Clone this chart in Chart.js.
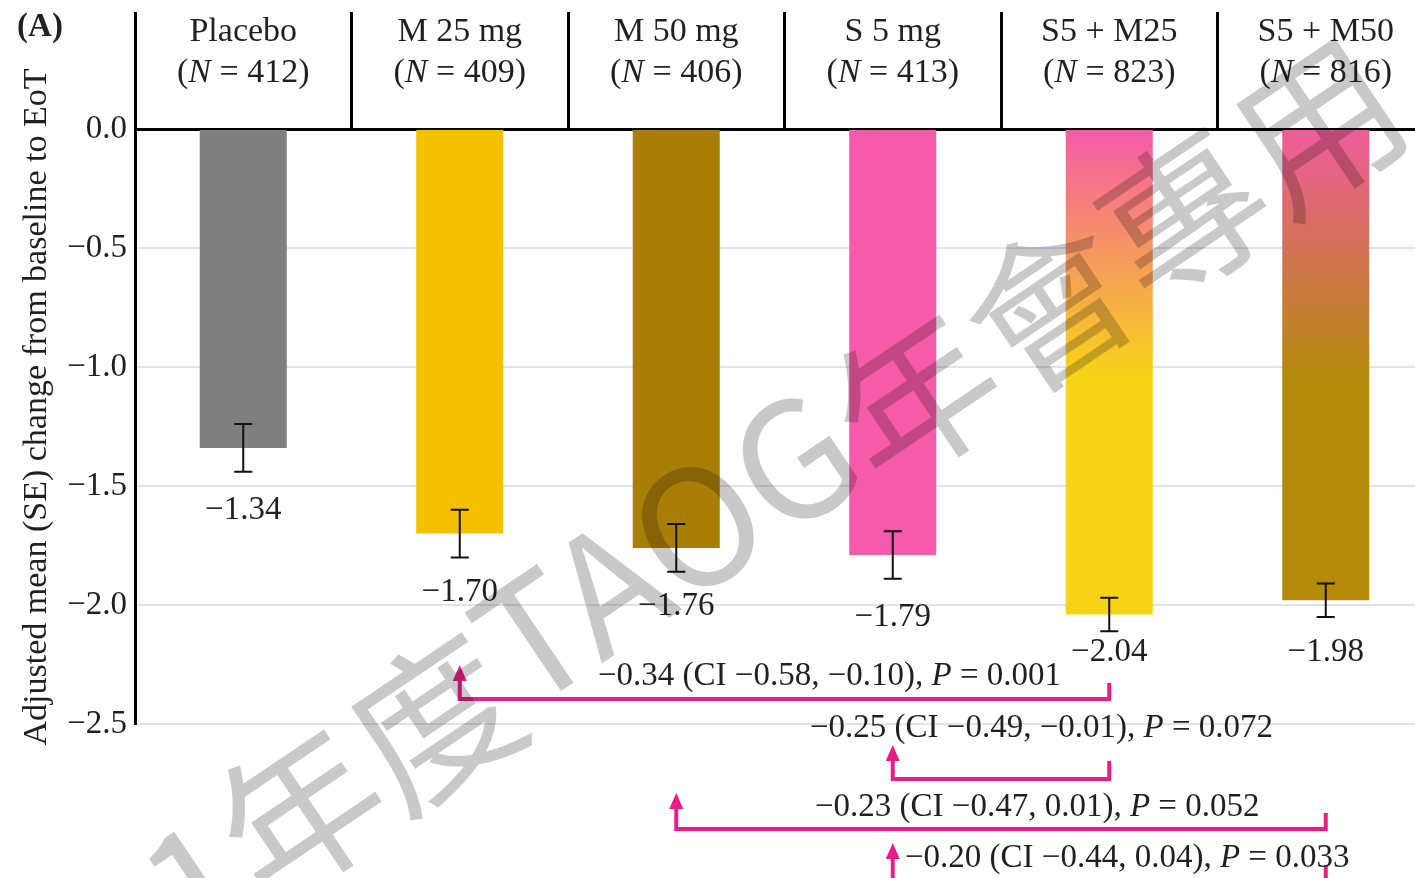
<!DOCTYPE html>
<html>
<head>
<meta charset="utf-8">
<script src="https://cdn.jsdelivr.net/npm/chart.js@4.4.1/dist/chart.umd.min.js"></script>
<style>
  html, body { margin: 0; padding: 0; background: #fff; overflow: hidden; }
  #wrap { position: relative; width: 1434px; height: 878px; }
</style>
</head>
<body>
<div id="wrap"><canvas id="c" width="1434" height="878"></canvas></div>
<script>
// Treatment groups and their sizes
const groups = ['Placebo', 'M 25 mg', 'M 50 mg', 'S 5 mg', 'S5 + M25', 'S5 + M50'];
const groupN = [412, 409, 406, 413, 823, 816];
// Adjusted mean change from baseline to EoT and its standard error
const meanChange = [-1.34, -1.70, -1.76, -1.79, -2.04, -1.98];
const stdErr = [0.10, 0.10, 0.10, 0.10, 0.07, 0.07];
// Y-axis tick values
const yTicks = [0, -0.5, -1.0, -1.5, -2.0, -2.5];
// Pairwise comparisons (indices into groups): difference, 95% CI, P value
const cmpFrom = [1, 3, 2, 3];
const cmpTo = [4, 4, 5, 5];
const cmpDiff = [-0.34, -0.25, -0.23, -0.20];
const cmpLow = [-0.58, -0.49, -0.47, -0.44];
const cmpHigh = [-0.10, -0.01, 0.01, 0.04];
const cmpP = ['0.001', '0.072', '0.052', '0.033'];

// ---- styling ----
const SERIF = '"Liberation Serif", "DejaVu Serif", serif';
const TEXT = '#231f20';
const PINK = '#ec1c86';
const solidFill = ['#7f7f7f', '#f4c000', '#a97e07', '#f55ba9', null, null];
const gradFill = { 4: ['#f65ba8', '#f7d516'], 5: ['#f05c9c', '#b48a0a'] };
const labelNudge = [4, 0, 0, 4, -14, 0];
// bracket geometry in canvas pixels: horizontal run, arrow tip, right riser top, text left/centre
const bracketLine = [699, 779, 829, 881];
const bracketTip = [665, 745, 793, 843];
const bracketRise = [683, 761, 813, 865];
const bracketTextLeft = [598, 810, 815, 905];
const bracketTextY = [676, 728, 807, 858];

const minus = s => s.replace('-', '\u2212');
const fmt2 = v => minus(v.toFixed(2));
const fmt1 = v => (v === 0 ? '0.0' : minus(v.toFixed(1)));

function drawRuns(ctx, runs, x, y, size, align) {
  ctx.textAlign = 'left';
  ctx.textBaseline = 'middle';
  const widths = runs.map(([t, it]) => {
    ctx.font = (it ? 'italic ' : '') + size + 'px ' + SERIF;
    return ctx.measureText(t).width;
  });
  const total = widths.reduce((a, b) => a + b, 0);
  let cx = align === 'center' ? x - total / 2 : x;
  runs.forEach(([t, it], k) => {
    ctx.font = (it ? 'italic ' : '') + size + 'px ' + SERIF;
    ctx.fillText(t, cx, y);
    cx += widths[k];
  });
}

const decorations = {
  id: 'decorations',
  afterDatasetsDraw(chart) {
    const { ctx, scales: { x, y } } = chart;
    ctx.save();
    // error bars
    ctx.strokeStyle = '#111';
    ctx.lineWidth = 2;
    meanChange.forEach((v, i) => {
      const cx = x.getPixelForValue(i);
      const yTop = y.getPixelForValue(v + stdErr[i]);
      const yBot = y.getPixelForValue(v - stdErr[i]);
      ctx.beginPath();
      ctx.moveTo(cx, yTop); ctx.lineTo(cx, yBot);
      ctx.moveTo(cx - 9, yTop); ctx.lineTo(cx + 9, yTop);
      ctx.moveTo(cx - 9, yBot); ctx.lineTo(cx + 9, yBot);
      ctx.stroke();
    });
    // value labels
    ctx.fillStyle = TEXT;
    ctx.font = '33px ' + SERIF;
    ctx.textAlign = 'center';
    ctx.textBaseline = 'middle';
    meanChange.forEach((v, i) => {
      const cx = x.getPixelForValue(i);
      const yy = y.getPixelForValue(v - stdErr[i]) + 35 + labelNudge[i];
      ctx.fillText(fmt2(v), cx, yy);
    });
    ctx.restore();
  },
  afterDraw(chart) {
    const { ctx, scales: { x } } = chart;
    ctx.save();
    ctx.fillStyle = TEXT;
    // column headers
    groups.forEach((g, i) => {
      const cx = x.getPixelForValue(i);
      drawRuns(ctx, [[g, false]], cx, 32, 34, 'center');
      drawRuns(ctx, [['(', false], ['N', true], [' = ' + groupN[i] + ')', false]], cx, 73, 34, 'center');
    });
    // panel tag
    ctx.font = 'bold 33px ' + SERIF;
    ctx.textAlign = 'center';
    ctx.textBaseline = 'middle';
    ctx.fillText('(A)', 40, 27);
    // y-axis title
    ctx.save();
    ctx.translate(37, 407);
    ctx.rotate(-Math.PI / 2);
    ctx.font = '34px ' + SERIF;
    ctx.fillText('Adjusted mean (SE) change from baseline to EoT', 0, 0);
    ctx.restore();

    // comparison brackets
    cmpFrom.forEach((f, k) => {
      const x1 = x.getPixelForValue(f);
      const x2 = x.getPixelForValue(cmpTo[k]);
      ctx.strokeStyle = PINK;
      ctx.fillStyle = PINK;
      ctx.lineWidth = 4;
      ctx.lineJoin = 'miter';
      ctx.beginPath();
      ctx.moveTo(x1, bracketTip[k] + 12);
      ctx.lineTo(x1, bracketLine[k]);
      ctx.lineTo(x2, bracketLine[k]);
      ctx.lineTo(x2, bracketRise[k]);
      ctx.stroke();
      ctx.beginPath();
      ctx.moveTo(x1, bracketTip[k]);
      ctx.lineTo(x1 - 7, bracketTip[k] + 16);
      ctx.lineTo(x1 + 7, bracketTip[k] + 16);
      ctx.closePath();
      ctx.fill();
      ctx.fillStyle = TEXT;
      const lead = fmt2(cmpDiff[k]) + ' (CI ' + fmt2(cmpLow[k]) + ', ' + fmt2(cmpHigh[k]) + '), ';
      drawRuns(ctx, [[lead, false], ['P', true], [' = ' + cmpP[k], false]],
        bracketTextLeft[k], bracketTextY[k], 33, 'left');
    });

    // diagonal watermark (Latin letters sit a little higher than the CJK glyphs)
    ctx.save();
    ctx.globalCompositeOperation = 'multiply';
    ctx.fillStyle = '#c9c9c9';
    const wmSize = 162;
    ctx.font = wmSize + 'px "Noto Sans CJK TC"';
    ctx.textAlign = 'left';
    ctx.textBaseline = 'middle';
    ctx.translate(300, 812);
    ctx.rotate(-34 * Math.PI / 180);
    const wmParts = [['2021', 0], ['年度', 0], ['TAOG', -16], ['年會專用', 0]];
    let px = -ctx.measureText('2021').width - wmSize / 2;
    wmParts.forEach(([t, dy]) => {
      ctx.fillText(t, px, dy);
      px += ctx.measureText(t).width;
    });
    ctx.restore();
    ctx.restore();
  }
};

new Chart(document.getElementById('c'), {
  type: 'bar',
  data: {
    labels: groups,
    datasets: [{
      data: meanChange,
      backgroundColor(c) {
        const i = c.dataIndex;
        if (solidFill[i]) return solidFill[i];
        const { chart } = c;
        if (!chart.chartArea) return gradFill[i][1];
        const y = chart.scales.y;
        const g = chart.ctx.createLinearGradient(0, y.getPixelForValue(0), 0, y.getPixelForValue(-1.05));
        g.addColorStop(0, gradFill[i][0]);
        g.addColorStop(1, gradFill[i][1]);
        return g;
      },
      borderWidth: 0,
      categoryPercentage: 1,
      barPercentage: 0.402
    }]
  },
  options: {
    responsive: false,
    animation: false,
    layout: { padding: { top: 12, left: 0, right: 0, bottom: 154 } },
    plugins: { legend: { display: false }, tooltip: { enabled: false } },
    scales: {
      x: {
        position: 'top',
        offset: true,
        grid: { offset: true, drawOnChartArea: false, drawTicks: true, tickLength: 117, color: '#000', lineWidth: 3 },
        border: { display: true, color: '#000', width: 3 },
        ticks: { display: false }
      },
      y: {
        min: -2.5,
        max: 0,
        afterBuildTicks(s) { s.ticks = yTicks.map(v => ({ value: v })); },
        afterFit(s) { s.width = 135; },
        ticks: {
          callback: v => fmt1(v),
          font: { family: SERIF, size: 33 },
          color: TEXT,
          padding: 8
        },
        grid: {
          drawTicks: false,
          lineWidth: 2,
          color: c => (c.tick && c.tick.value === 0 ? 'rgba(0,0,0,0)' : '#dfe2f3')
        },
        border: { display: true, color: '#000', width: 3 }
      }
    }
  },
  plugins: [decorations]
});
</script>
</body>
</html>
